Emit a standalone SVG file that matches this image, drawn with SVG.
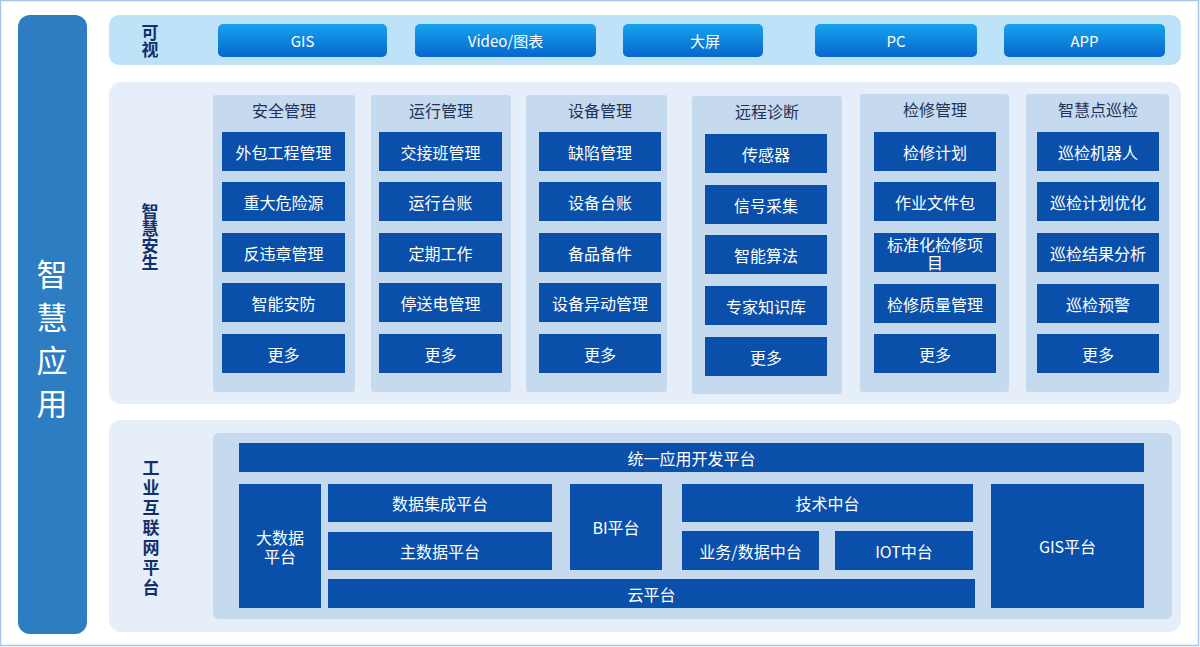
<svg xmlns="http://www.w3.org/2000/svg" width="1200" height="647" viewBox="0 0 1200 647">
<defs>
<linearGradient id="btn" x1="0" y1="0" x2="0" y2="1">
<stop offset="0" stop-color="#16A3EE"/>
<stop offset="1" stop-color="#0866CC"/>
</linearGradient>
</defs>
<style>
text{font-family:"Noto Sans CJK SC","Liberation Sans",sans-serif;text-anchor:middle;dominant-baseline:central}
.panel{fill:#E6EFF9}
.col{fill:#C5DAEF}
.box{fill:#0A50AA}
.bt{fill:#FFFFFF;font-size:16px}
.ht{fill:#1E3357;font-size:16px}
.lbl{fill:#14306A;font-size:17px;font-weight:bold;writing-mode:vertical-rl}
.vt{writing-mode:vertical-rl}
.btn{fill:url(#btn)}
.btt{fill:#FFFFFF;font-size:15px}
</style>
<rect x="0" y="0" width="1200" height="647" fill="#FFFFFF"/>
<rect x="0.5" y="0.5" width="1198" height="645" fill="none" stroke="#A6C8E8" stroke-width="1.5"/>

<g id="left-bar">
<rect x="18" y="15" width="69" height="619" rx="12" fill="#2C7DC1"/>
<text class="vt" x="52" y="345" fill="#FFFFFF" font-size="31" letter-spacing="12">智慧应用</text>
</g>

<g id="visual-layer">
<rect x="109" y="15" width="1072" height="50" rx="10" fill="#BEE3F8"/>
<text class="lbl" x="150" y="41">可视</text>
<g id="btn-gis"><rect class="btn" x="218" y="24" width="169" height="33" rx="5"/><text class="btt" x="302.5" y="40.5">GIS</text></g>
<g id="btn-video"><rect class="btn" x="415" y="24" width="181" height="33" rx="5"/><text class="btt" x="505.5" y="40.5">Video/图表</text></g>
<g id="btn-screen"><rect class="btn" x="623" y="24" width="140" height="33" rx="5"/><text class="btt" x="705" y="40.5">大屏</text></g>
<g id="btn-pc"><rect class="btn" x="815" y="24" width="162" height="33" rx="5"/><text class="btt" x="896" y="40.5">PC</text></g>
<g id="btn-app"><rect class="btn" x="1004" y="24" width="161" height="33" rx="5"/><text class="btt" x="1084.5" y="40.5">APP</text></g>
</g>

<g id="smart-layer">
<rect class="panel" x="109" y="82" width="1072" height="322" rx="12"/>
<text class="lbl" x="150" y="237">智慧安生</text>
</g>

<g id="col-safety">
<rect class="col" x="213" y="95" width="142" height="297" rx="3"/>
<text class="ht" x="284" y="110">安全管理</text>
<rect class="box" x="222" y="132" width="123" height="39"/><text class="bt" x="283.5" y="151.5">外包工程管理</text>
<rect class="box" x="222" y="182" width="123" height="39"/><text class="bt" x="283.5" y="201.5">重大危险源</text>
<rect class="box" x="222" y="233" width="123" height="39"/><text class="bt" x="283.5" y="252.5">反违章管理</text>
<rect class="box" x="222" y="283" width="123" height="39"/><text class="bt" x="283.5" y="302.5">智能安防</text>
<rect class="box" x="222" y="334" width="123" height="39"/><text class="bt" x="283.5" y="353.5">更多</text>
</g>

<g id="col-operation">
<rect class="col" x="371" y="95" width="140" height="297" rx="3"/>
<text class="ht" x="441" y="110">运行管理</text>
<rect class="box" x="379" y="132" width="123" height="39"/><text class="bt" x="440.5" y="151.5">交接班管理</text>
<rect class="box" x="379" y="182" width="123" height="39"/><text class="bt" x="440.5" y="201.5">运行台账</text>
<rect class="box" x="379" y="233" width="123" height="39"/><text class="bt" x="440.5" y="252.5">定期工作</text>
<rect class="box" x="379" y="283" width="123" height="39"/><text class="bt" x="440.5" y="302.5">停送电管理</text>
<rect class="box" x="379" y="334" width="123" height="39"/><text class="bt" x="440.5" y="353.5">更多</text>
</g>

<g id="col-equipment">
<rect class="col" x="526" y="95" width="141" height="297" rx="3"/>
<text class="ht" x="600" y="110">设备管理</text>
<rect class="box" x="539" y="132" width="122" height="39"/><text class="bt" x="600" y="151.5">缺陷管理</text>
<rect class="box" x="539" y="182" width="122" height="39"/><text class="bt" x="600" y="201.5">设备台账</text>
<rect class="box" x="539" y="233" width="122" height="39"/><text class="bt" x="600" y="252.5">备品备件</text>
<rect class="box" x="539" y="283" width="122" height="39"/><text class="bt" x="600" y="302.5">设备异动管理</text>
<rect class="box" x="539" y="334" width="122" height="39"/><text class="bt" x="600" y="353.5">更多</text>
</g>

<g id="col-remote">
<rect class="col" x="692" y="96" width="150" height="298" rx="3"/>
<text class="ht" x="767" y="111">远程诊断</text>
<rect class="box" x="705" y="134" width="122" height="39"/><text class="bt" x="766" y="153.5">传感器</text>
<rect class="box" x="705" y="185" width="122" height="39"/><text class="bt" x="766" y="204.5">信号采集</text>
<rect class="box" x="705" y="235" width="122" height="39"/><text class="bt" x="766" y="254.5">智能算法</text>
<rect class="box" x="705" y="286" width="122" height="39"/><text class="bt" x="766" y="305.5">专家知识库</text>
<rect class="box" x="705" y="337" width="122" height="39"/><text class="bt" x="766" y="356.5">更多</text>
</g>

<g id="col-maintenance">
<rect class="col" x="860" y="94" width="149" height="298" rx="3"/>
<text class="ht" x="935" y="109">检修管理</text>
<rect class="box" x="874" y="132" width="122" height="39"/><text class="bt" x="935" y="151.5">检修计划</text>
<rect class="box" x="874" y="182" width="122" height="39"/><text class="bt" x="935" y="201.5">作业文件包</text>
<rect class="box" x="874" y="233" width="122" height="39"/><text class="bt" x="935" y="252.5"><tspan x="935" dy="-9">标准化检修项</tspan><tspan x="935" dy="18">目</tspan></text>
<rect class="box" x="874" y="284" width="122" height="39"/><text class="bt" x="935" y="303.5">检修质量管理</text>
<rect class="box" x="874" y="334" width="122" height="39"/><text class="bt" x="935" y="353.5">更多</text>
</g>

<g id="col-inspection">
<rect class="col" x="1026" y="94" width="143" height="298" rx="3"/>
<text class="ht" x="1098" y="109">智慧点巡检</text>
<rect class="box" x="1037" y="132" width="122" height="39"/><text class="bt" x="1098" y="151.5">巡检机器人</text>
<rect class="box" x="1037" y="182" width="122" height="39"/><text class="bt" x="1098" y="201.5">巡检计划优化</text>
<rect class="box" x="1037" y="233" width="122" height="39"/><text class="bt" x="1098" y="252.5">巡检结果分析</text>
<rect class="box" x="1037" y="284" width="122" height="39"/><text class="bt" x="1098" y="303.5">巡检预警</text>
<rect class="box" x="1037" y="334" width="122" height="39"/><text class="bt" x="1098" y="353.5">更多</text>
</g>

<g id="platform-layer">
<rect class="panel" x="109" y="420" width="1072" height="212" rx="12"/>
<text class="lbl" x="151" y="529" font-size="18" letter-spacing="3">工业互联网平台</text>
<rect class="col" x="213" y="433" width="959" height="186" rx="6"/>
</g>
<g id="unified-dev"><rect class="box" x="239" y="443" width="905" height="29"/><text class="bt" x="691.5" y="457.5">统一应用开发平台</text></g>
<g id="bigdata"><rect class="box" x="239" y="484" width="82" height="124"/><text class="bt" x="280" y="546"><tspan x="280" dy="-9">大数据</tspan><tspan x="280" dy="19">平台</tspan></text></g>
<g id="data-integration"><rect class="box" x="328" y="484" width="224" height="38"/><text class="bt" x="440" y="503">数据集成平台</text></g>
<g id="master-data"><rect class="box" x="328" y="532" width="224" height="38"/><text class="bt" x="440" y="551">主数据平台</text></g>
<g id="bi"><rect class="box" x="570" y="484" width="92" height="86"/><text class="bt" x="616" y="527">BI平台</text></g>
<g id="tech-center"><rect class="box" x="682" y="484" width="291" height="38"/><text class="bt" x="827.5" y="503">技术中台</text></g>
<g id="biz-data-center"><rect class="box" x="682" y="531" width="137" height="39"/><text class="bt" x="750.5" y="550.5">业务/数据中台</text></g>
<g id="iot-center"><rect class="box" x="835" y="531" width="138" height="39"/><text class="bt" x="904" y="550.5">IOT中台</text></g>
<g id="cloud"><rect class="box" x="328" y="579" width="647" height="29"/><text class="bt" x="651.5" y="593.5">云平台</text></g>
<g id="gis-platform"><rect class="box" x="991" y="484" width="153" height="124"/><text class="bt" x="1067.5" y="546">GIS平台</text></g>
<g id="connectors"></g>
</svg>
